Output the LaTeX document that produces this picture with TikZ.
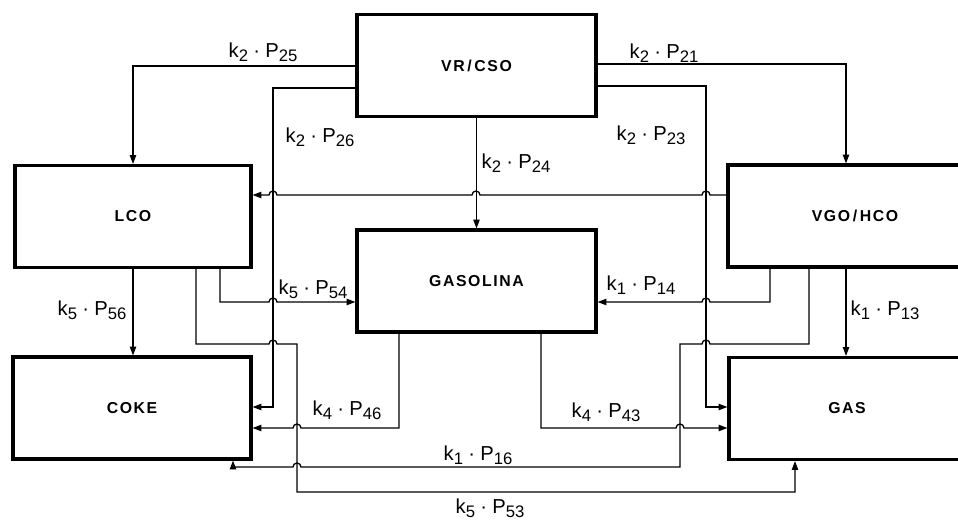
\documentclass[tikz,border=0pt]{standalone}
\usepackage{fontspec}
\setmainfont{Liberation Sans}
\newfontfamily\boxfont[LetterSpace=10]{Liberation Sans}
\usetikzlibrary{arrows.meta}
\newcommand{\lsub}[1]{\raisebox{-0.4ex}{\fontsize{9.5}{10}\selectfont #1}}
\newcommand{\kp}[2]{k\lsub{#1}\kern3pt·\kern3pt P\lsub{#2}}
\newcommand{\hopleft}[2]{-- (#1+4,#2) arc[start angle=0,end angle=180,radius=0.08cm]}
\newcommand{\hopright}[2]{-- (#1-4,#2) arc[start angle=180,end angle=0,radius=0.08cm]}
\begin{document}
\begin{tikzpicture}[x = 0.02cm, y = -0.02cm,
		box/.style = {draw, line width = 1.8pt, minimum height = 2.04cm, font = \boxfont\bfseries\fontsize{9}{10}\selectfont},
		flow/.style = {line width = 0.75pt, -{Triangle[length = 5pt, width = 3.6pt]}},
		lbl/.style = {font = \fontsize{11.5}{13}\selectfont, inner sep = 1pt}]
		\useasboundingbox (0,0) rectangle (958,520);
		\node [box, minimum width = 4.78cm] (vr) at (476.5,65.5) {VR\,/\,CSO};
		\node [box, minimum width = 4.78cm] (gsl) at (476.5,281) {GASOLINA};
		\node [box, minimum width = 4.72cm] (lco) at (133,216.5) {LCO};
		\node [box, minimum width = 5.08cm] (vgo) at (855,216) {VGO\,/\,HCO};
		\node [box, minimum width = 4.76cm] (coke) at (132,408) {COKE};
		\node [box, minimum width = 4.72cm] (gas) at (847,408.5) {GAS};
		% from VR/CSO
		\draw [flow] (vr.west |- 0,66) -- (133,66) -- (133,0 |- lco.north);
		\draw [flow] (vr.west |- 0,88) -- (273,88) -- (273,407) -- (coke.east |- 0,407);
		\draw [flow] (vr.south) -- (gsl.north);
		\draw [flow] (vr.east |- 0,64) -- (846,64) -- (846,0 |- vgo.north);
		\draw [flow] (vr.east |- 0,86) -- (706,86) -- (706,407) -- (gas.west |- 0,407);
		% from VGO/HCO
		\draw [flow] (vgo.west |- 0,195) \hopleft{706}{195} \hopleft{476}{195} \hopleft{273}{195} -- (lco.east |- 0,195);
		\draw [flow] (770,0 |- vgo.south) -- (770,302) \hopleft{706}{302} -- (gsl.east |- 0,302);
		\draw [flow] (846,0 |- vgo.south) -- (846,0 |- gas.north);
		\draw [flow] (809,0 |- vgo.south) -- (809,344) \hopleft{706}{344} -- (680,344) -- (680,467) \hopleft{297}{467} -- (233,467) -- (233,0 |- coke.south);
		% from LCO
		\draw [flow] (133,0 |- lco.south) -- (133,0 |- coke.north);
		\draw [flow] (220,0 |- lco.south) -- (220,302) \hopright{273}{302} -- (gsl.west |- 0,302);
		\draw [flow] (196,0 |- lco.south) -- (196,344) \hopright{273}{344} -- (297,344) -- (297,492) -- (795,492) -- (795,0 |- gas.south);
		% from GASOLINA
		\draw [flow] (399,0 |- gsl.south) -- (399,428) \hopleft{297}{428} -- (coke.east |- 0,428);
		\draw [flow] (541,0 |- gsl.south) -- (541,428) \hopright{680}{428} -- (gas.west |- 0,428);
		% rate labels
		\node [lbl] (t25) at (263,52) {\kp{2}{25}};
		\node [lbl] (t26) at (320,137) {\kp{2}{26}};
		\node [lbl] (t24) at (516,163) {\kp{2}{24}};
		\node [lbl] (t21) at (664,53) {\kp{2}{21}};
		\node [lbl] (t23) at (651,135) {\kp{2}{23}};
		\node [lbl] (t54) at (313,289) {\kp{5}{54}};
		\node [lbl] (t56) at (92,310) {\kp{5}{56}};
		\node [lbl] (t46) at (347,410) {\kp{4}{46}};
		\node [lbl] (t14) at (641,285) {\kp{1}{14}};
		\node [lbl] (t13) at (885,310) {\kp{1}{13}};
		\node [lbl] (t43) at (606,412) {\kp{4}{43}};
		\node [lbl] (t16) at (478,455) {\kp{1}{16}};
		\node [lbl] (t53) at (490,508) {\kp{5}{53}};
	\end{tikzpicture}
\end{document}
